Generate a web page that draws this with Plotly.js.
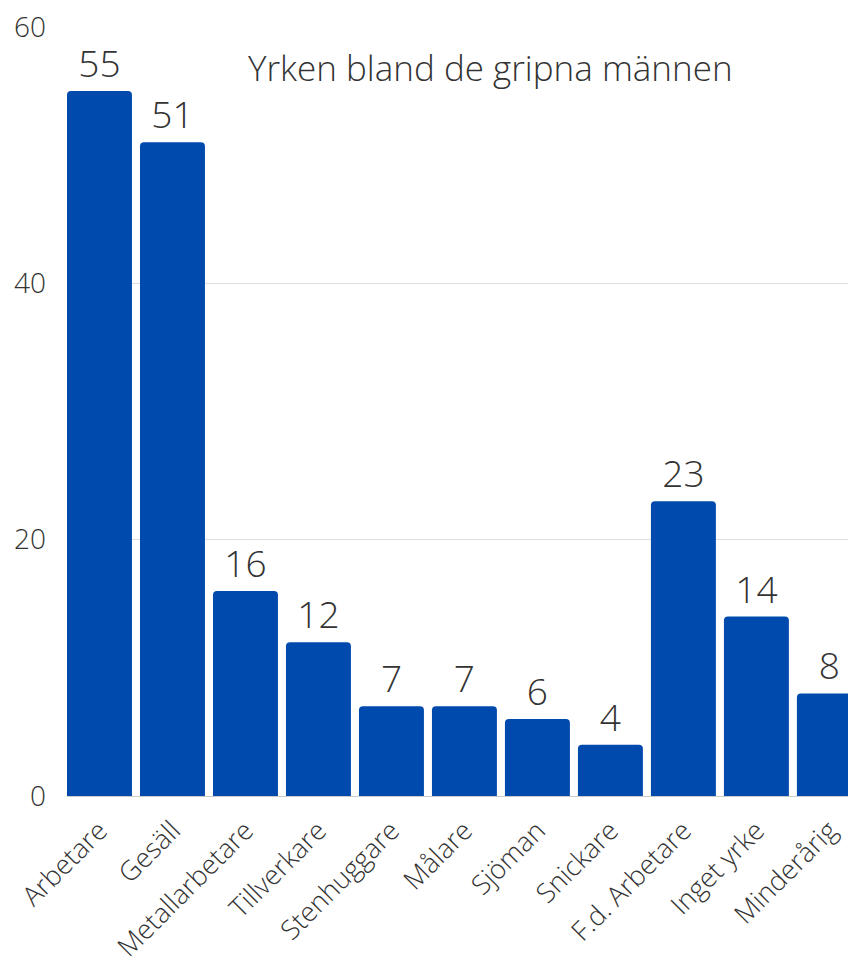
<!DOCTYPE html>
<html>
<head>
<meta charset="utf-8">
<script src="https://cdn.plot.ly/plotly-3.0.1.min.js"></script>
<style>html,body{margin:0;padding:0;background:#fff;}#chart{width:848px;height:964px;}</style>
</head>
<body>
<div id="chart"></div>
<script>
const categories = ["Arbetare", "Gesäll", "Metallarbetare", "Tillverkare", "Stenhuggare", "Målare", "Sjöman", "Snickare", "F.d. Arbetare", "Inget yrke", "Minderårig"];
const counts = [55, 51, 16, 12, 7, 7, 6, 4, 23, 14, 8];
const yTicks = [0, 20, 40, 60];
const chartTitle = "Yrken bland de gripna männen";

const fontFamily = "'Open Sans', 'Noto Sans', sans-serif";
const textColor = "#333333";

const trace = {
  type: "bar",
  x: categories.map((c, i) => i),
  y: counts,
  text: counts.map(String),
  textposition: "outside",
  cliponaxis: false,
  textfont: {family: fontFamily, size: 37, color: textColor, weight: 300},
  marker: {color: "#004AAD", cornerradius: 4},
  hoverinfo: "skip"
};

const layout = {
  width: 848,
  height: 964,
  margin: {l: 67, r: 0, t: 27, b: 168},
  paper_bgcolor: "#ffffff",
  plot_bgcolor: "#ffffff",
  bargap: 0.11,
  showlegend: false,
  font: {family: fontFamily, color: textColor, weight: 300},
  xaxis: {
    range: [-0.445, 10.255],
    tickmode: "array",
    tickvals: categories.map((c, i) => i),
    ticktext: categories,
    tickangle: -45,
    tickfont: {family: fontFamily, size: 27, color: textColor, weight: 300},
    ticklabelstandoff: 7,
    showgrid: false,
    zeroline: false,
    showline: true,
    linecolor: "#cccccc",
    linewidth: 1,
    ticks: "",
    fixedrange: true
  },
  yaxis: {
    range: [0, 60],
    tickmode: "array",
    tickvals: yTicks,
    ticktext: yTicks.map(String),
    tickfont: {family: fontFamily, size: 28, color: textColor, weight: 300},
    showgrid: true,
    gridcolor: "#dddddd",
    gridwidth: 1,
    zeroline: false,
    showline: false,
    ticks: "",
    ticklabelstandoff: 20,
    fixedrange: true
  },
  annotations: [{
    text: chartTitle,
    xref: "paper", yref: "paper",
    x: (490 - 67) / 781, y: 1,
    yshift: -40,
    xanchor: "center", yanchor: "middle",
    showarrow: false,
    font: {family: fontFamily, size: 35, color: textColor, weight: 300}
  }]
};

Plotly.newPlot("chart", [trace], layout, {displayModeBar: false, staticPlot: true});
</script>
</body>
</html>
